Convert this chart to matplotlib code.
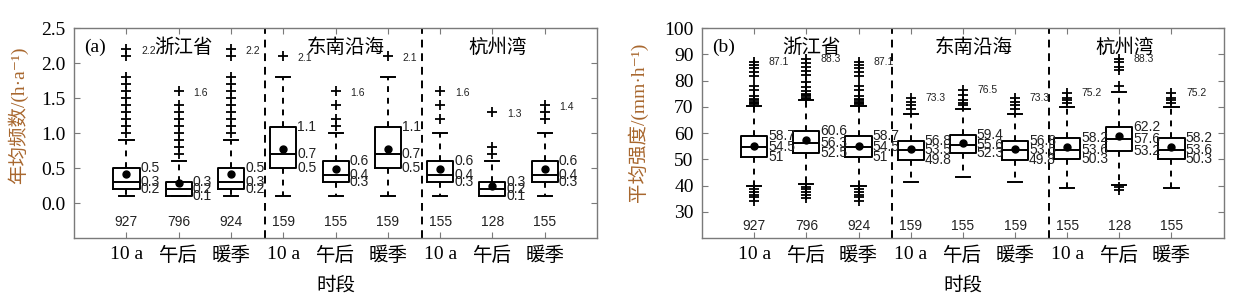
import numpy as np
import matplotlib
matplotlib.use("Agg")
import matplotlib.pyplot as plt

plt.rcParams['font.family'] = ['Liberation Serif', 'Noto Sans CJK SC', 'DejaVu Serif']

# ---- data ----
groups = ["浙江省", "东南沿海", "杭州湾"]
periods = ["10 a", "午后", "暖季"] * 3
counts = [927, 796, 924, 159, 155, 159, 155, 128, 155]

# (a) 年均频数
a_q1 = [0.2, 0.1, 0.2, 0.5, 0.3, 0.5, 0.3, 0.1, 0.3]
a_med = [0.3, 0.2, 0.3, 0.7, 0.4, 0.7, 0.4, 0.2, 0.4]
a_q3 = [0.5, 0.3, 0.5, 1.08, 0.6, 1.08, 0.6, 0.3, 0.6]
a_mean = [0.42, 0.28, 0.42, 0.77, 0.48, 0.77, 0.48, 0.24, 0.48]
a_lo = [0.1, 0.1, 0.1, 0.1, 0.1, 0.1, 0.1, 0.1, 0.1]
a_hi = [0.9, 0.6, 0.9, 1.8, 1.0, 1.8, 1.0, 0.6, 1.0]
a_fliers = [
    [1.0, 1.1, 1.2, 1.3, 1.4, 1.5, 1.6, 1.7, 1.8, 2.1, 2.2],
    [0.7, 0.8, 0.9, 1.0, 1.1, 1.2, 1.3, 1.4, 1.6],
    [1.0, 1.1, 1.2, 1.3, 1.4, 1.5, 1.6, 1.7, 1.8, 2.1, 2.2],
    [2.1],
    [1.1, 1.2, 1.4, 1.6],
    [2.1],
    [1.2, 1.4, 1.6],
    [0.7, 0.8, 1.3],
    [1.2, 1.3, 1.4],
]
a_lbl = [("0.5", "0.3", "0.2"), ("0.3", "0.2", "0.1"), ("0.5", "0.3", "0.2"),
         ("1.1", "0.7", "0.5"), ("0.6", "0.4", "0.3"), ("1.1", "0.7", "0.5"),
         ("0.6", "0.4", "0.3"), ("0.3", "0.2", "0.1"), ("0.6", "0.4", "0.3")]
a_max = ["2.2", "1.6", "2.2", "2.1", "1.6", "2.1", "1.6", "1.3", "1.4"]

# (b) 平均强度
b_q1 = [51, 52.5, 51, 49.8, 52.3, 49.8, 50.3, 53.2, 50.3]
b_med = [54.5, 56.3, 54.5, 53.5, 55.6, 53.5, 53.6, 57.6, 53.6]
b_q3 = [58.7, 60.6, 58.7, 56.8, 59.4, 56.8, 58.2, 62.2, 58.2]
b_mean = [55.2, 57.2, 55.2, 53.9, 56.3, 53.9, 54.7, 58.7, 54.7]
b_lo = [39.8, 40.6, 39.8, 41.5, 43.4, 41.5, 38.9, 40.4, 38.9]
b_hi = [70.3, 72.6, 70.3, 67.3, 69.0, 67.3, 69.8, 75.8, 69.8]
b_fliers = [
    [71, 71.5, 72, 72.5, 73, 74, 76.4, 78, 81.8, 83.4, 84.7, 85.9, 87.1,
     38.8, 37.5, 36.5, 35.5, 34.0],
    [73, 73.5, 74, 74.5, 75, 76, 77.5, 79.5, 82.2, 83.5, 85, 86.5, 88.3,
     39.5, 38.5, 37.5, 36.5, 35.3],
    [71, 71.5, 72, 72.5, 73, 74, 76.4, 78, 81.8, 83.4, 84.7, 85.9, 87.1,
     38.8, 37.5, 36.5, 35.5, 34.0],
    [69, 70.5, 72, 73.3],
    [70.5, 71.5, 72.5, 74.5, 76.5],
    [69, 70.5, 72, 73.3],
    [71.5, 72.5, 73.5, 75.2],
    [77.8, 84.1, 85.3, 86.9, 88.3, 39.5, 38.2],
    [71.5, 72.5, 73.5, 75.2],
]
b_lbl = [("58.7", "54.5", "51"), ("60.6", "56.3", "52.5"), ("58.7", "54.5", "51"),
         ("56.8", "53.5", "49.8"), ("59.4", "55.6", "52.3"), ("56.8", "53.5", "49.8"),
         ("58.2", "53.6", "50.3"), ("62.2", "57.6", "53.2"), ("58.2", "53.6", "50.3")]
b_max = ["87.1", "88.3", "87.1", "73.3", "76.5", "73.3", "75.2", "88.3", "75.2"]

pos = np.arange(1, 10)
lab_col = '#a8672e'
frame_col = '#7a7a7a'
num_font = ['Liberation Sans', 'DejaVu Sans']


def make_stats(q1, med, q3, mean, lo, hi, fl):
    st = []
    for i in range(len(q1)):
        st.append(dict(q1=q1[i], med=med[i], q3=q3[i], mean=mean[i],
                       whislo=lo[i], whishi=hi[i], fliers=fl[i]))
    return st


def draw(ax, stats, lbls, maxl, ytick, ylim, ylabel, tag, ny, title_y, maxdy, ylx, yly):
    ax.bxp(stats, positions=pos, widths=0.5, capwidths=0.27, showmeans=True,
           boxprops=dict(color='black', lw=1.4),
           medianprops=dict(color='black', lw=1.4),
           whiskerprops=dict(color='black', lw=1.4, ls=(0, (3, 3))),
           capprops=dict(color='black', lw=1.4),
           flierprops=dict(marker='+', markersize=7, mew=1.3, mec='black'),
           meanprops=dict(marker='o', markersize=5, mfc='black', mec='black'))
    for i, p in enumerate(pos):
        s = stats[i]
        for v, t in zip((s['q3'], s['med'], s['q1']), lbls[i]):
            ax.text(p + 0.27, v, t, fontsize=10, family=num_font,
                    ha='left', va='center', color='#222222')
        ax.text(p + 0.28, max(s['fliers']) - maxdy, maxl[i], fontsize=7.5,
                family=num_font, ha='left', va='center', color='#222222')
        ax.text(p, ny, str(counts[i]), fontsize=10, family=num_font,
                ha='center', va='center', color='#222222')
    for xd in (3.65, 6.65):
        ax.axvline(xd, color='black', lw=1.4, ls=(0, (4, 3)))
    for gx, g in zip((2.1, 5.2, 8.1), groups):
        ax.text(gx, title_y, g, fontsize=14, family=['Noto Sans CJK SC'],
                ha='center', va='center')
    ax.text(0.2, title_y, tag, fontsize=14, ha='left', va='center')
    ax.set_xlim(0, 10)
    ax.set_ylim(*ylim)
    ax.set_yticks(ytick)
    ax.set_xticks(pos)
    ax.set_xticklabels(periods, fontsize=14)
    ax.tick_params(axis='y', labelsize=14)
    ax.tick_params(direction='in', length=4, top=True, right=True,
                   color=frame_col, pad=6)
    for sp in ax.spines.values():
        sp.set_color(frame_col)
        sp.set_linewidth(1.0)
    ax.set_ylabel(ylabel, fontsize=14, color=lab_col)
    ax.yaxis.set_label_coords(ylx, yly)
    ax.set_xlabel("时段", fontsize=14, labelpad=9)


fig = plt.figure(figsize=(12.36, 2.95), dpi=100)
ax1 = fig.add_axes([0.060, 0.193, 0.423, 0.712])
ax2 = fig.add_axes([0.568, 0.193, 0.422, 0.712])

draw(ax1, make_stats(a_q1, a_med, a_q3, a_mean, a_lo, a_hi, a_fliers),
     a_lbl, a_max, [0.0, 0.5, 1.0, 1.5, 2.0, 2.5], (-0.5, 2.5),
     "年均频数/(h·a⁻¹)", "(a)", -0.27, 2.22, 0.03, -0.088, 0.586)
ax1.set_yticklabels(["0.0", "0.5", "1.0", "1.5", "2.0", "2.5"])

draw(ax2, make_stats(b_q1, b_med, b_q3, b_mean, b_lo, b_hi, b_fliers),
     b_lbl, b_max, np.arange(30, 101, 10), (20, 100),
     "平均强度/(mm·h⁻¹)", "(b)", 24.5, 92.5, 0, -0.103, 0.55)

fig.savefig("out.png", dpi=100)
